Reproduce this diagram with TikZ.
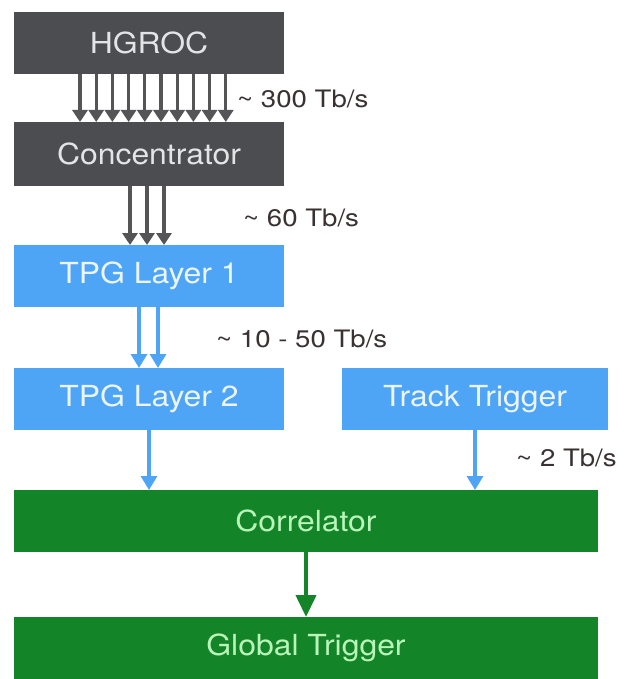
\documentclass[tikz,border=0pt]{standalone}
\usepackage{fontspec}
\setmainfont[FakeStretch=1.1]{TeX Gyre Heros}
\newfontfamily\lblfont[FakeStretch=1.15]{TeX Gyre Heros}
\usetikzlibrary{arrows.meta}
\definecolor{boxgray}{RGB}{76,77,81}
\definecolor{arrgray}{RGB}{85,85,88}
\definecolor{txtgray}{RGB}{228,228,230}
\definecolor{boxblue}{RGB}{78,164,245}
\definecolor{txtblue}{RGB}{236,245,255}
\definecolor{boxgreen}{RGB}{20,132,40}
\definecolor{txtgreen}{RGB}{185,245,185}
\definecolor{lbl}{RGB}{58,50,50}
\begin{document}
\begin{tikzpicture}[x=1pt,y=-1pt,
  blk/.style={inner sep=0pt,outer sep=0pt,font=\fontsize{29}{34}\selectfont},
  graybox/.style={blk,fill=boxgray,text=txtgray,minimum width=270pt},
  bluebox/.style={blk,fill=boxblue,text=txtblue},
  greenbox/.style={blk,fill=boxgreen,text=txtgreen,minimum width=584pt,minimum height=62pt},
  rate/.style={anchor=west,inner sep=0pt,text=lbl,font=\lblfont\fontsize{24}{28}\selectfont},
  grayarr/.style={draw=arrgray,line width=3.2pt,-{Triangle[width=15pt,length=12pt]}},
  bluearr/.style={draw=boxblue,line width=3.2pt,-{Triangle[width=16pt,length=14pt]}},
  greenarr/.style={draw=boxgreen,line width=4pt,-{Triangle[width=20pt,length=22pt]}}
]
\useasboundingbox[fill=white] (0,0) rectangle (623,679);
\node[graybox,minimum height=62pt] (hgroc) at (149,43) {HGROC};
\node[graybox,minimum height=64pt] (conc) at (149,154) {Concentrator};
\node[bluebox,minimum width=270pt,minimum height=62pt] (tpg1) at (149,276) {TPG Layer 1};
\node[bluebox,minimum width=270pt,minimum height=62pt] (tpg2) at (149,399) {TPG Layer 2};
\node[bluebox,minimum width=266pt,minimum height=62pt] (track) at (475,399) {Track Trigger};
\node[greenbox] (corr) at (306,521) {Correlator};
\node[greenbox] (glob) at (306,648) {Global Trigger};

\node[rate] (l300) at (237,99) {\textasciitilde\ 300 Tb/s};
\node[rate] (l60) at (243,218) {\textasciitilde\ 60 Tb/s};
\node[rate] (l1050) at (216,339) {\textasciitilde\ 10 - 50 Tb/s};
\node[rate] (l2) at (516,458) {\textasciitilde\ 2 Tb/s};

\foreach \s in {-69,-52.8,-36.6,-20.4,-4.2,12,28.2,44.4,60.6,76.8}
  \draw[grayarr] ([xshift=\s pt]hgroc.south) -- ([xshift=\s pt]conc.north);
\foreach \s in {-19,-2,15}
  \draw[grayarr] ([xshift=\s pt]conc.south) -- ([xshift=\s pt]tpg1.north);
\foreach \s in {-10,9}
  \draw[bluearr] ([xshift=\s pt]tpg1.south) -- ([xshift=\s pt]tpg2.north);
\draw[bluearr] (tpg2.south) -- (tpg2.south |- corr.north);
\draw[bluearr] (track.south) -- (track.south |- corr.north);
\draw[greenarr] (corr.south) -- (glob.north);
\end{tikzpicture}
\end{document}
